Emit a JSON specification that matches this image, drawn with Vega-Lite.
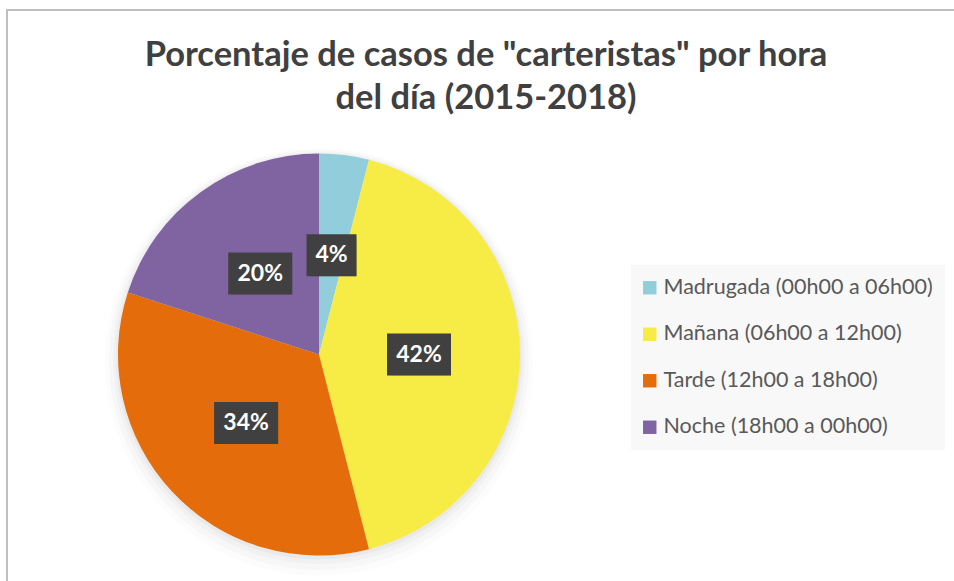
{
  "$schema": "https://vega.github.io/schema/vega-lite/v6.json",
  "width": 1000,
  "height": 620,
  "autosize": "none",
  "padding": {"left": 7, "top": 10, "right": 0, "bottom": 0},
  "background": "white",
  "config": {
    "view": {"stroke": "#bfbfbf", "strokeWidth": 2},
    "font": "Lato",
    "legend": {
      "orient": "none",
      "legendX": 624,
      "legendY": 255,
      "fillColor": "#f8f8f8",
      "padding": 12,
      "symbolType": "square",
      "symbolSize": 180,
      "symbolStrokeWidth": 0,
      "symbolOffset": -4,
      "labelFont": "Lato",
      "labelFontSize": 21.5,
      "labelColor": "#595959",
      "rowPadding": 23.5,
      "labelOffset": 3,
      "labelLimit": 400
    }
  },
  "title": {
    "text": ["Porcentaje de casos de \"carteristas\" por hora", "del día (2015-2018)"],
    "font": "Lato",
    "fontSize": 34.5,
    "fontWeight": "bold",
    "color": "#404040",
    "anchor": "middle",
    "baseline": "alphabetic",
    "offset": -133,
    "dx": -21,
    "lineHeight": 43
  },
  "data": {
    "values": [
      {"franja": "Madrugada (00h00 a 06h00)", "pct": 4, "orden": 1},
      {"franja": "Mañana (06h00 a 12h00)", "pct": 42, "orden": 2},
      {"franja": "Tarde (12h00 a 18h00)", "pct": 34, "orden": 3},
      {"franja": "Noche (18h00 a 00h00)", "pct": 20, "orden": 4}
    ]
  },
  "transform": [
    {"window": [{"op": "sum", "field": "pct", "as": "cum"}], "sort": [{"field": "orden"}], "frame": [null, 0]},
    {"joinaggregate": [{"op": "sum", "field": "pct", "as": "total"}]},
    {"calculate": "(datum.cum - datum.pct / 2) / datum.total * 2 * PI", "as": "mid"},
    {"calculate": "312 + 100 * sin(datum.mid)", "as": "px"},
    {"calculate": "344.5 - 100 * cos(datum.mid)", "as": "py"},
    {"calculate": "datum.pct < 10 ? 25 : 32", "as": "hw"},
    {"calculate": "datum.px - datum.hw", "as": "bx1"},
    {"calculate": "datum.px + datum.hw", "as": "bx2"},
    {"calculate": "datum.py - 21", "as": "by1"},
    {"calculate": "datum.py + 21", "as": "by2"},
    {"calculate": "datum.pct + '%'", "as": "etiqueta"}
  ],
  "layer": [
    {
      "mark": {"type": "arc", "x": 312, "y": 352, "outerRadius": 214, "color": "#000000", "opacity": 0.012},
      "encoding": {"theta": {"field": "pct", "type": "quantitative", "stack": true}, "order": {"field": "orden"}}
    },
    {
      "mark": {"type": "arc", "x": 312, "y": 350, "outerRadius": 210, "color": "#000000", "opacity": 0.018},
      "encoding": {"theta": {"field": "pct", "type": "quantitative", "stack": true}, "order": {"field": "orden"}}
    },
    {
      "mark": {"type": "arc", "x": 312, "y": 348, "outerRadius": 206, "color": "#000000", "opacity": 0.025},
      "encoding": {"theta": {"field": "pct", "type": "quantitative", "stack": true}, "order": {"field": "orden"}}
    },
    {
      "mark": {"type": "arc", "x": 312, "y": 346.5, "outerRadius": 203, "color": "#000000", "opacity": 0.03},
      "encoding": {"theta": {"field": "pct", "type": "quantitative", "stack": true}, "order": {"field": "orden"}}
    },
    {
      "mark": {"type": "arc", "x": 312, "y": 344.5, "outerRadius": 201},
      "encoding": {
        "theta": {"field": "pct", "type": "quantitative", "stack": true},
        "order": {"field": "orden"},
        "color": {
          "field": "franja",
          "type": "nominal",
          "title": null,
          "sort": null,
          "scale": {
            "domain": ["Madrugada (00h00 a 06h00)", "Mañana (06h00 a 12h00)", "Tarde (12h00 a 18h00)", "Noche (18h00 a 00h00)"],
            "range": ["#92CDDC", "#F7EC45", "#E46C0A", "#8064A2"]
          }
        }
      }
    },
    {
      "mark": {"type": "rect", "color": "#000000", "opacity": 0.08, "xOffset": 6, "yOffset": 6},
      "encoding": {
        "x": {"field": "bx1", "type": "quantitative", "scale": null},
        "x2": {"field": "bx2"},
        "y": {"field": "by1", "type": "quantitative", "scale": null},
        "y2": {"field": "by2"}
      }
    },
    {
      "mark": {"type": "rect", "color": "#000000", "opacity": 0.15, "xOffset": 3, "yOffset": 3},
      "encoding": {
        "x": {"field": "bx1", "type": "quantitative", "scale": null},
        "x2": {"field": "bx2"},
        "y": {"field": "by1", "type": "quantitative", "scale": null},
        "y2": {"field": "by2"}
      }
    },
    {
      "mark": {"type": "rect", "color": "#404040", "opacity": 1},
      "encoding": {
        "x": {"field": "bx1", "type": "quantitative", "scale": null},
        "x2": {"field": "bx2"},
        "y": {"field": "by1", "type": "quantitative", "scale": null},
        "y2": {"field": "by2"}
      }
    },
    {
      "mark": {"type": "text", "color": "#ffffff", "font": "Lato", "fontSize": 23, "fontWeight": "bold", "align": "center", "baseline": "middle"},
      "encoding": {
        "x": {"field": "px", "type": "quantitative", "scale": null},
        "y": {"field": "py", "type": "quantitative", "scale": null},
        "text": {"field": "etiqueta", "type": "nominal"}
      }
    }
  ]
}
